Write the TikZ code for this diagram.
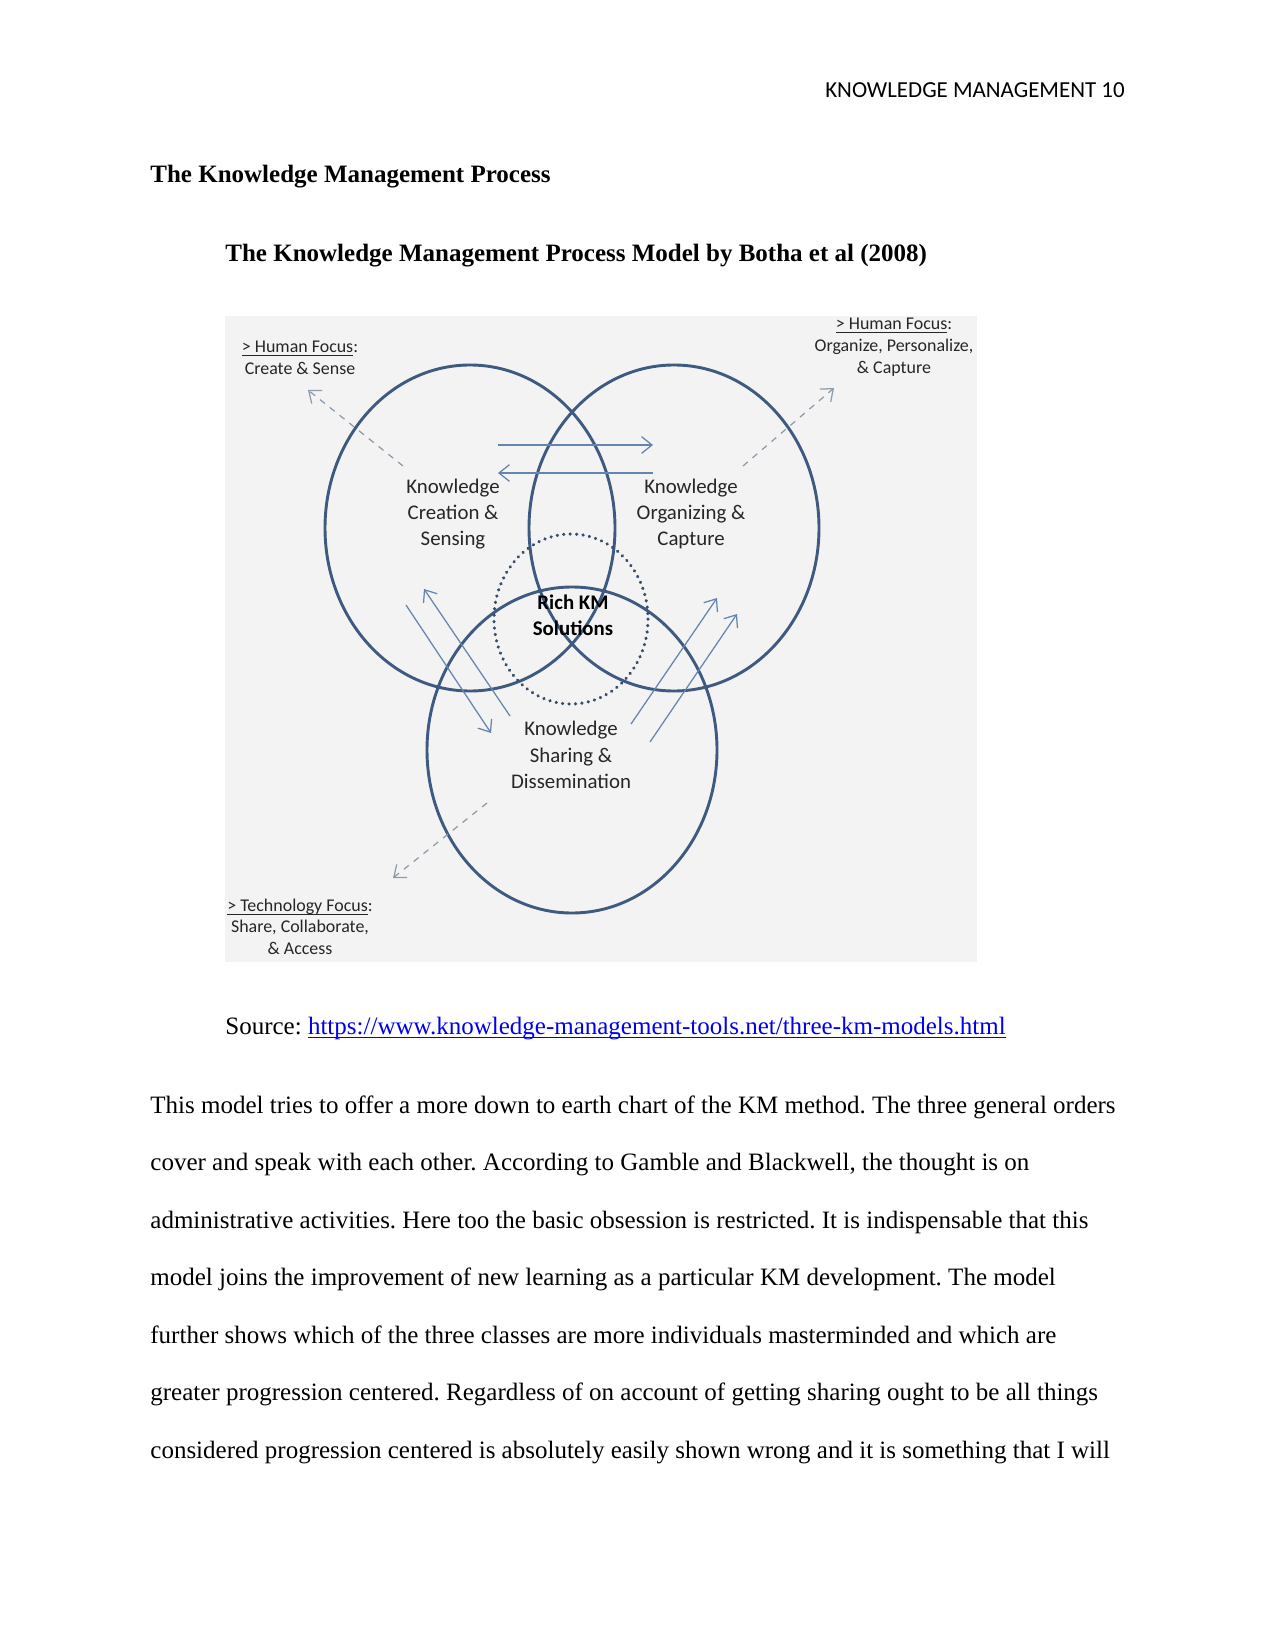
\documentclass[tikz,border=0pt]{standalone}
\usepackage{fontspec}
\setmainfont{Liberation Serif}
\newfontfamily\calibri{Carlito}
\usetikzlibrary{arrows.meta}
\frenchspacing

\definecolor{ringblue}{HTML}{3E5A80}
\definecolor{arrowblue}{HTML}{6486AE}
\definecolor{dashgray}{HTML}{8D9BAB}
\definecolor{panelgray}{HTML}{F3F3F3}
\definecolor{linkblue}{HTML}{0000EE}

\newcommand{\flatul}[1]{\underline{\smash{#1}}}

\tikzset{
  ring/.style={draw=ringblue, line width=1.4pt},
  flow/.style={draw=arrowblue, line width=0.6pt, ->},
  focusarrow/.style={draw=dashgray, dashed, line width=0.6pt, ->},
  kmtext/.style={font=\calibri\fontsize{10}{12.6}\selectfont, align=center, text=black!85},
  focustext/.style={font=\calibri\fontsize{8.6}{10.5}\selectfont, align=center, text=black!85},
  body/.style={anchor=base west, inner sep=0pt, font=\fontsize{12}{14}\selectfont},
}

\begin{document}
\begin{tikzpicture}[x=0.48pt, y=-0.48pt, >={Straight Barb[length=5pt,width=8pt]}]
    \useasboundingbox (0,0) rectangle (1275,1650);

    % ページの見出し
    \node[anchor=base east, inner sep=0pt, font=\calibri\fontsize{11}{13}\selectfont] (header) at (1125,98) {KNOWLEDGE MANAGEMENT 10};
    \node[body, font=\fontsize{12}{14}\selectfont\bfseries] (title) at (150,183) {The Knowledge Management Process};
    \node[body, font=\fontsize{12}{14}\selectfont\bfseries] (caption) at (225,262) {The Knowledge Management Process Model by Botha et al (2008)};

    % 図
    \begin{scope}
      \fill[panelgray] (225,316) rectangle (977,962);

      \draw[ring] (470,528) ellipse (145 and 163);
      \draw[ring] (674,528) ellipse (145 and 163);
      \draw[ring] (572,750) ellipse (145 and 163);
      \draw[draw=ringblue!85!black, line width=1.6pt, dash pattern=on 0.1pt off 3pt, line cap=round] (571,619) ellipse (77 and 85);

      \coordinate (cs1) at (498,445);  \coordinate (oc1) at (653,445);
      \coordinate (oc2) at (653,473);  \coordinate (cs2) at (498,473);
      \coordinate (cs3) at (406,605);  \coordinate (sd1) at (491,733);
      \coordinate (sd2) at (510,716);  \coordinate (cs4) at (424,589);
      \coordinate (sd3) at (631,724);  \coordinate (oc3) at (717,598);
      \coordinate (sd4) at (650,742);  \coordinate (oc4) at (737,614);

      \draw[flow] (cs1) -- (oc1);
      \draw[flow] (oc2) -- (cs2);
      \draw[flow] (cs3) -- (sd1);
      \draw[flow] (sd2) -- (cs4);
      \draw[flow] (sd3) -- (oc3);
      \draw[flow] (sd4) -- (oc4);

      \coordinate (hf1) at (403,466);  \coordinate (hf1end) at (308,390);
      \coordinate (hf2) at (743,466);  \coordinate (hf2end) at (834,388);
      \coordinate (tf) at (487,803);   \coordinate (tfend) at (393,878);
      \draw[focusarrow] (hf1) -- (hf1end);
      \draw[focusarrow] (hf2) -- (hf2end);
      \draw[focusarrow] (tf) -- (tfend);

      \node[kmtext] (creation) at (453,514) {Knowledge\\Creation \&\\Sensing};
      \node[kmtext] (organizing) at (691,514) {Knowledge\\Organizing \&\\Capture};
      \node[kmtext, font=\calibri\bfseries\fontsize{10}{12.6}\selectfont, text=black] (rich) at (573,615) {Rich KM\\Solutions};
      \node[kmtext] (sharing) at (571,755) {Knowledge\\Sharing \&\\Dissemination};

      \node[focustext] (createfocus) at (300,360) {\flatul{> Human Focus}:\\Create \& Sense};
      \node[focustext] (organizefocus) at (894,349) {\flatul{> Human Focus}:\\Organize, Personalize,\\\& Capture};
      \node[focustext] (sharefocus) at (300,929) {\flatul{> Technology Focus}:\\Share, Collaborate,\\\& Access};
    \end{scope}

    % 出典と本文
    \node[body] (source) at (225,1034) {Source: \textcolor{linkblue}{\flatul{https://www.knowledge-management-tools.net/three-km-models.html}}};
    \node[body] (line1) at (150,1113) {This model tries to offer a more down to earth chart of the KM method. The three general orders};
    \node[body] (line2) at (150,1170) {cover and speak with each other. According to Gamble and Blackwell, the thought is on};
    \node[body] (line3) at (150,1228) {administrative activities. Here too the basic obsession is restricted. It is indispensable that this};
    \node[body] (line4) at (150,1285) {model joins the improvement of new learning as a particular KM development. The model};
    \node[body] (line5) at (150,1343) {further shows which of the three classes are more individuals masterminded and which are};
    \node[body] (line6) at (150,1400) {greater progression centered. Regardless of on account of getting sharing ought to be all things};
    \node[body] (line7) at (150,1458) {considered progression centered is absolutely easily shown wrong and it is something that I will};
\end{tikzpicture}
\end{document}
